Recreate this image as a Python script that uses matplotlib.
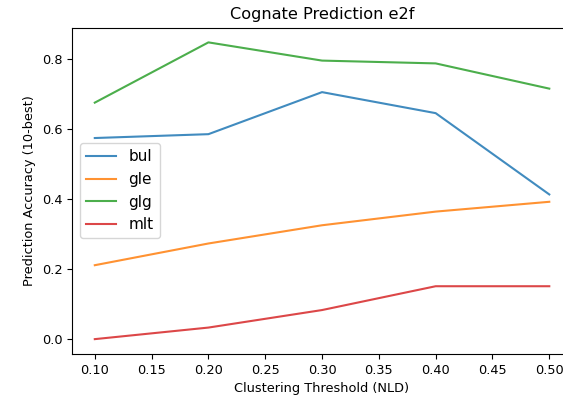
import matplotlib
matplotlib.use('Agg')
from matplotlib import pyplot as plt

# Clustering thresholds (NLD) and 10-best accuracy per language
thresholds = [0.1, 0.2, 0.3, 0.4, 0.5]
bul = [0.574, 0.585, 0.705, 0.645, 0.413]
gle = [0.211, 0.273, 0.325, 0.364, 0.392]
glg = [0.675, 0.847, 0.795, 0.787, 0.715]
mlt = [0.0, 0.033, 0.083, 0.151, 0.151]

plt.rcParams['font.size'] = 9.3

fig = plt.figure(figsize=(5.63, 4.05), dpi=100)
ax = fig.add_axes([0.128, 0.126, 0.888, 0.806])

ax.plot(thresholds, bul, label='bul', alpha=0.85)
ax.plot(thresholds, gle, label='gle', alpha=0.85)
ax.plot(thresholds, glg, label='glg', alpha=0.85)
ax.plot(thresholds, mlt, label='mlt', alpha=0.85)

ax.set_title('Cognate Prediction e2f', fontsize=11.6)
ax.set_xlabel('Clustering Threshold (NLD)')
ax.set_ylabel('Prediction Accuracy (10-best)')
ax.legend(loc='center left', fontsize=11)

fig.savefig('out.png', dpi=100)
